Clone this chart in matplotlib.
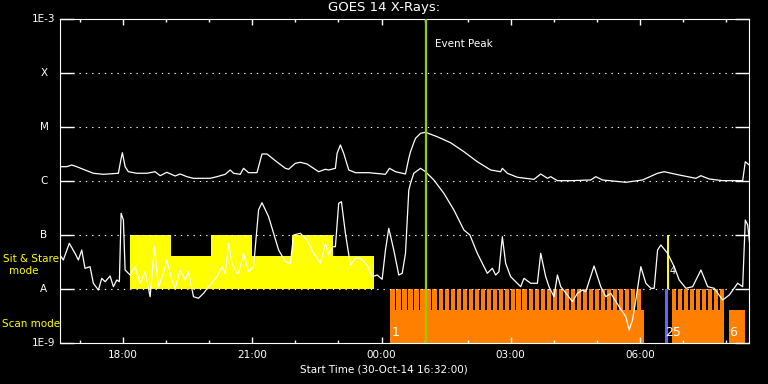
import numpy as np
import matplotlib
matplotlib.use("Agg")
import matplotlib.pyplot as plt
import matplotlib.ticker as mticker

# GOES 14 X-ray plot, 30-Oct-14 16:32 start
# times are hours since start, flux values are log10(W/m^2)

start_hour = 16 + 32 / 60.0

# long channel (1-8 A)
long_t = [0.0, 0.156, 0.272, 0.388, 0.621, 0.774, 1.007, 1.356, 1.412, 1.449, 1.512, 1.588,
          1.784, 2.016, 2.209, 2.326, 2.481, 2.674, 2.791, 2.947, 3.100, 3.488, 3.644, 3.837,
          3.953, 4.030, 4.186, 4.263, 4.379, 4.574, 4.691, 4.807, 5.000, 5.233, 5.309, 5.465,
          5.581, 5.737, 6.007, 6.163, 6.240, 6.395, 6.435, 6.512, 6.588, 6.705, 6.860, 7.170,
          7.558, 7.651, 7.791, 8.023, 8.100, 8.140, 8.216, 8.256, 8.372, 8.488, 8.760, 9.070,
          9.379, 9.691, 10.0, 10.233, 10.272, 10.388, 10.621, 11.007, 11.163, 11.319, 11.395,
          11.551, 11.860, 12.326, 12.442, 12.598, 13.140, 13.528, 13.877, 14.030, 14.379,
          14.767, 14.884, 15.077, 15.388, 15.853, 15.914, 16.007]
long_f = [-5.735, -5.735, -5.704, -5.735, -5.809, -5.857, -5.876, -5.857, -5.611, -5.476, -5.735, -5.828,
          -5.857, -5.857, -5.828, -5.902, -5.839, -5.907, -5.870, -5.920, -5.950, -5.950, -5.920, -5.876,
          -5.796, -5.857, -5.876, -5.765, -5.846, -5.846, -5.500, -5.500, -5.624, -5.765, -5.783, -5.672,
          -5.654, -5.685, -5.828, -5.783, -5.796, -5.765, -5.487, -5.333, -5.487, -5.796, -5.846, -5.846,
          -5.876, -5.765, -5.828, -5.870, -5.580, -5.457, -5.291, -5.209, -5.117, -5.098, -5.180, -5.291,
          -5.457, -5.643, -5.796, -5.828, -5.765, -5.857, -5.931, -5.969, -5.870, -5.950, -5.920,
          -5.994, -5.994, -5.981, -5.920, -5.981, -6.024, -5.981, -5.857, -5.828, -5.889,
          -5.950, -5.902, -5.963, -5.994, -5.994, -5.643, -5.704]

# short channel (0.5-4 A)
short_t = [0.0, 0.077, 0.216, 0.349, 0.426, 0.505, 0.581, 0.698, 0.774, 0.891, 0.970, 1.047,
           1.163, 1.240, 1.319, 1.379, 1.419, 1.472, 1.512, 1.628, 1.744, 1.860, 1.977, 2.093,
           2.193, 2.286, 2.402, 2.481, 2.598, 2.674, 2.791, 2.907, 2.984, 3.100, 3.216, 3.333,
           3.449, 3.644, 3.760, 3.837, 3.914, 3.993, 4.109, 4.147, 4.263, 4.379, 4.495, 4.612,
           4.691, 4.844, 4.960, 5.077, 5.233, 5.349, 5.426, 5.581, 5.737, 5.891, 6.047, 6.163,
           6.240, 6.319, 6.395, 6.472, 6.535, 6.628, 6.744, 6.860, 6.977, 7.133, 7.249, 7.365,
           7.481, 7.558, 7.635, 7.751, 7.867, 7.947, 8.023, 8.100, 8.140, 8.216, 8.372, 8.488,
           8.681, 8.914, 9.147, 9.379, 9.519, 9.691, 9.923, 10.040, 10.116, 10.193, 10.272,
           10.349, 10.465, 10.698, 10.774, 10.930, 11.086, 11.163, 11.279, 11.356, 11.472,
           11.551, 11.628, 11.784, 11.900, 12.016, 12.133, 12.209, 12.402, 12.558, 12.674,
           12.791, 12.984, 13.140, 13.217, 13.295, 13.372, 13.488, 13.605, 13.721, 13.798,
           13.877, 13.953, 14.109, 14.263, 14.379, 14.535, 14.691, 14.884, 15.040, 15.193,
           15.388, 15.542, 15.737, 15.853, 15.914, 15.970, 16.047]
short_f = [-7.370, -7.463, -7.154, -7.339, -7.463, -7.278, -7.617, -7.587, -7.894, -8.019, -7.802, -7.865,
           -7.759, -7.957, -7.833, -7.865, -6.598, -6.722, -7.648, -7.741, -7.587, -7.894, -7.680, -8.143,
           -7.217, -7.957, -7.709, -7.463, -7.833, -7.987, -7.648, -7.833, -7.680, -8.143, -8.172, -8.080,
           -7.957, -7.772, -7.587, -7.709, -7.154, -7.524, -7.709, -7.709, -7.339, -7.680, -7.587, -6.533,
           -6.402, -6.661, -6.969, -7.278, -7.494, -7.524, -7.000, -6.969, -7.093, -7.339, -7.524, -7.154,
           -7.370, -7.217, -7.217, -6.413, -6.383, -6.969, -7.556, -7.431, -7.431, -7.556, -7.772, -7.741,
           -7.820, -7.278, -6.876, -7.278, -7.741, -7.709, -7.339, -6.167, -6.043, -5.857, -5.765, -5.828,
           -5.981, -6.228, -6.537, -6.907, -7.000, -7.339, -7.709, -7.617, -7.741, -7.680, -7.031,
           -7.524, -7.772, -7.957, -7.802, -7.894, -7.894, -7.339, -7.772, -7.957, -8.143,
           -7.741, -7.957, -8.111, -8.235, -8.080, -8.019, -8.050, -7.574, -7.957, -8.143,
           -8.080, -8.328, -8.513, -8.759, -8.574, -8.204, -7.587, -7.894, -7.987, -7.987,
           -7.278, -7.185, -7.339, -7.587, -7.833, -7.987, -7.957, -7.648, -7.957, -7.987,
           -8.204, -8.111, -7.894, -7.957, -6.722, -6.815, -7.402]

# sit & stare blocks
sit_start = [1.63, 2.57, 3.51, 4.46, 5.39, 6.34]
sit_end = [2.57, 3.51, 4.46, 5.39, 6.34, 7.30]
sit_top = [1e-7, 4.1e-8, 1e-7, 4.1e-8, 1e-7, 4.1e-8]

# scan mode blocks (solid part) and scan stripes
scan_start = [7.67, 14.21, 15.53]
scan_end = [13.56, 15.41, 15.90]
scan_low_top = 4.1e-9
stripe_t = [7.67, 7.81, 7.95, 8.09, 8.23, 8.37, 8.51, 8.65, 8.79, 8.93, 9.07, 9.21, 9.35, 9.49,
            9.63, 9.77, 9.91, 10.05, 10.19, 10.33, 10.47, 10.60, 10.74, 10.88, 11.02, 11.16,
            11.30, 11.44, 11.58, 11.72, 11.86, 12.00, 12.14, 12.28, 12.42, 12.56, 12.70, 12.84,
            12.98, 13.12, 13.26, 13.40,
            14.21, 14.35, 14.49, 14.63, 14.77, 14.91, 15.05, 15.19, 15.33]
stripe_w = 0.1
scan_nums = ['1', '25', '6']
scan_num_t = [7.79, 14.24, 15.64]

peak_t = 8.51
levels = [1e-9, 1e-8, 1e-7, 1e-6, 1e-5, 1e-4, 1e-3]
level_labels = ['1E-9', 'A', 'B', 'C', 'M', 'X', '1E-3']
tick_clock = [18, 21, 0, 3, 6]

ORANGE = '#ff8000'
YELLOW = '#ffff00'
GREEN = '#99cc00'

plt.rcParams['font.family'] = 'DejaVu Sans'
fig = plt.figure(figsize=(7.68, 3.84), dpi=100, facecolor='black')
ax = fig.add_axes([60 / 768, 41 / 384, 689 / 768, 324 / 384])
ax.set_facecolor('black')
ax.set_yscale('log')
ax.set_xlim(0, 16.0)
ax.set_ylim(1e-9, 1e-3)

# sit & stare
ax.bar(sit_start, np.array(sit_top) - 1e-8, bottom=1e-8,
       width=np.array(sit_end) - np.array(sit_start), align='edge', color=YELLOW, lw=0, zorder=1)

# scan mode
ax.bar(scan_start, scan_low_top - 1e-9, bottom=1e-9,
       width=np.array(scan_end) - np.array(scan_start), align='edge', color=ORANGE, lw=0, zorder=1)
ax.bar(stripe_t, 1e-8 - scan_low_top, bottom=scan_low_top, width=stripe_w,
       align='edge', color=ORANGE, lw=0, zorder=1, antialiased=False)

# the odd ones near 06:30
ax.bar([14.05], [1e-8 - 1e-9], bottom=1e-9, width=0.062, align='edge', color='#6464ff', lw=0, zorder=1.2)
ax.bar([14.09], [1e-7 - 1e-8], bottom=1e-8, width=0.05, align='edge', color=YELLOW, lw=0, zorder=1.2)

for lab, t in zip(scan_nums, scan_num_t):
    ax.text(t, 10 ** -8.8, lab, color='white', fontsize=9, ha='center', va='center', zorder=5)
ax.text(14.23, 10 ** -7.67, '4', color='white', fontsize=7, ha='center', va='center', zorder=5)

# dotted levels
for lv in levels[1:-1]:
    ax.axhline(lv, color='white', lw=0.8, ls=(0, (1.2, 4.5)), zorder=2)

# curves
ax.plot(long_t, 10 ** np.array(long_f), color='white', lw=0.9, zorder=3)
ax.plot(short_t, 10 ** np.array(short_f), color='white', lw=0.9, zorder=3)

# event peak
ax.axvline(peak_t, color=GREEN, lw=1.6, zorder=4)
ax.text(peak_t + 0.2, 10 ** -3.46, 'Event Peak', color='white', fontsize=7.5, va='center')

# axes styling
for sp in ax.spines.values():
    sp.set_color('white')
ax.yaxis.set_major_locator(mticker.FixedLocator(levels))
ax.yaxis.set_minor_locator(mticker.NullLocator())
ax.yaxis.set_major_formatter(mticker.NullFormatter())
ax.tick_params(axis='y', which='major', direction='in', length=10, width=1,
               colors='white', left=True, right=True)
for lv, lab in zip(levels, level_labels):
    ax.text(-16 / 43, lv, lab, color='white', fontsize=7.5, ha='center', va='center',
            transform=ax.transData, clip_on=False)

major_t = [((c - start_hour) % 24) for c in tick_clock]
minor_t = [h - start_hour for h in range(17, 17 + 16)]
ax.set_xticks(major_t)
ax.set_xticklabels(['%02d:00' % c for c in tick_clock])
ax.set_xticks(minor_t, minor=True)
ax.tick_params(axis='x', which='major', direction='in', length=4.5, width=1,
               colors='white', top=True, bottom=True, labelsize=7.5, pad=5)
ax.tick_params(axis='x', which='minor', direction='in', length=2.4, width=1,
               colors='white', top=True, bottom=True)

fig.text(384 / 768, 1 - 8 / 384, 'GOES 14 X-Rays:', color='white', fontsize=9.5, ha='center', va='center')
fig.text(384 / 768, 1 - 369 / 384, 'Start Time (30-Oct-14 16:32:00)', color='white',
         fontsize=7.5, ha='center', va='center')
fig.text(3 / 768, 1 - 259 / 384, 'Sit & Stare', color=YELLOW, fontsize=7.5, ha='left', va='center')
fig.text(24 / 768, 1 - 271 / 384, 'mode', color=YELLOW, fontsize=7.5, ha='center', va='center')
fig.text(2 / 768, 1 - 324 / 384, 'Scan mode', color=YELLOW, fontsize=7.5, ha='left', va='center')

fig.savefig('out.png', dpi=100, facecolor='black')
